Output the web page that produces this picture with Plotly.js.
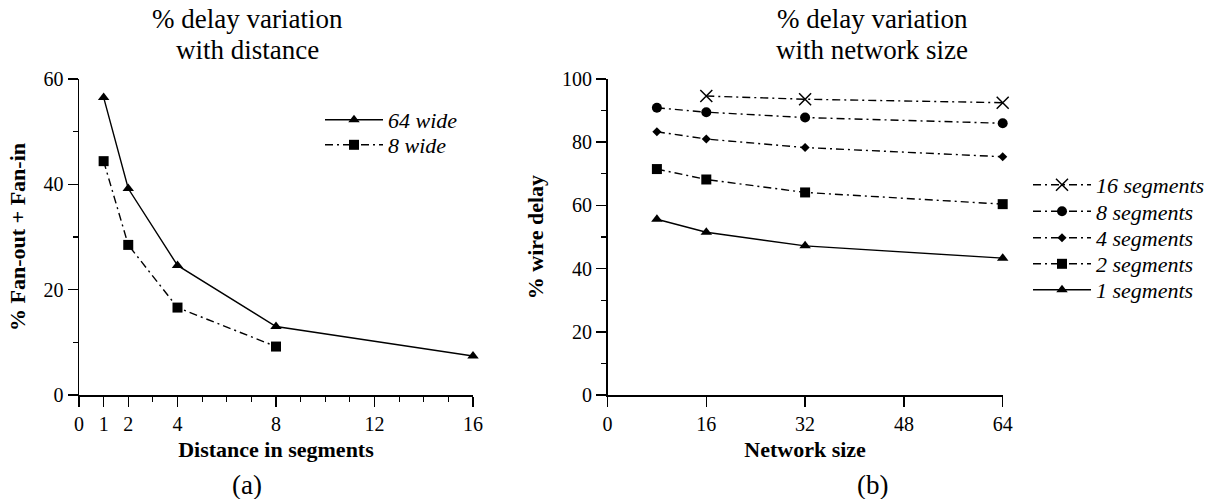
<!DOCTYPE html>
<html>
<head>
<meta charset="utf-8">
<script src="https://cdn.plot.ly/plotly-3.0.1.min.js"></script>
<style>html,body{margin:0;padding:0;background:#fff;}#chart{width:1211px;height:499px;}</style>
</head>
<body>
<div id="chart"></div>
<script>
// Panel (a): % Fan-out + Fan-in vs distance
const distX64 = [1, 2, 4, 8, 16];
const wide64 = [56.5, 39.2, 24.6, 13.0, 7.4];
const distX8 = [1, 2, 4, 8];
const wide8 = [44.4, 28.5, 16.6, 9.2];
const distTicks = [0, 1, 2, 4, 8, 12, 16];

// Panel (b): % wire delay vs network size
const netSize = [8, 16, 32, 64];
const netSize16 = [16, 32, 64];
const seg16 = [94.6, 93.6, 92.5];
const seg8 = [90.9, 89.5, 87.8, 86.0];
const seg4 = [83.3, 81.0, 78.3, 75.4];
const seg2 = [71.5, 68.2, 64.1, 60.4];
const seg1 = [55.6, 51.5, 47.2, 43.3];
const netTicks = [0, 16, 32, 48, 64];

const FONT = 'Liberation Serif';
const DD = '8px,4px,2px,4px';

function tr(x, y, name, symbol, size, dash, xa, ya, leg) {
  const isX = symbol.indexOf('x') === 0;
  return {
    x: x, y: y, name: name, type: 'scatter', mode: 'lines+markers',
    xaxis: xa, yaxis: ya, legend: leg, cliponaxis: false,
    line: {color: '#000', width: 1.4, dash: dash},
    marker: {symbol: symbol, size: size, color: '#000',
             line: {color: '#000', width: isX ? 1.5 : 0}}
  };
}

const data = [
  tr(distX64, wide64, '64 wide', 'triangle-up', 10, 'solid', 'x', 'y', 'legend'),
  tr(distX8, wide8, '8 wide', 'square', 10, DD, 'x', 'y', 'legend2'),
  tr(netSize16, seg16, '16 segments', 'x-thin-open', 12, DD, 'x2', 'y2', 'legend3'),
  tr(netSize, seg8, '8 segments', 'circle', 10, DD, 'x2', 'y2', 'legend4'),
  tr(netSize, seg4, '4 segments', 'diamond', 7, DD, 'x2', 'y2', 'legend5'),
  tr(netSize, seg2, '2 segments', 'square', 10, DD, 'x2', 'y2', 'legend6'),
  tr(netSize, seg1, '1 segments', 'triangle-up', 10, 'solid', 'x2', 'y2', 'legend7')
];

const W = 1211, H = 499;
const py = p => 1 - p / H;
const px = p => p / W;

const axBase = {
  showgrid: false, zeroline: false, showline: true, linecolor: '#000', linewidth: 1.5,
  ticks: 'outside', ticklen: 10, tickwidth: 1.5, tickcolor: '#000',
  tickfont: {family: FONT, size: 20, color: '#000'},
  minor: {ticks: 'outside', ticklen: 5, tickwidth: 1.2, tickcolor: '#000'}
};

function leg(x0, yc) {
  return {
    x: px(x0), y: py(yc), xanchor: 'left', yanchor: 'middle',
    bgcolor: 'rgba(0,0,0,0)', itemwidth: 58, tracegroupgap: 0,
    font: {family: FONT, size: 22, style: 'italic', color: '#000'}
  };
}

function ann(text, x, y, size) {
  return {text: text, xref: 'paper', yref: 'paper', x: px(x), y: py(y),
          xanchor: 'center', yanchor: 'middle', showarrow: false,
          font: {family: FONT, size: size, color: '#000'}};
}

const layout = {
  width: W, height: H,
  margin: {l: 0, r: 0, t: 0, b: 0},
  paper_bgcolor: '#fff', plot_bgcolor: '#fff',
  font: {family: FONT, color: '#000'},
  showlegend: true,
  xaxis: Object.assign({}, axBase, {
    domain: [px(79), px(473)], range: [0, 16], anchor: 'y',
    tickmode: 'array', tickvals: distTicks, ticktext: distTicks.map(String),
    minor: Object.assign({}, axBase.minor, {dtick: 1, tick0: 0}),
    title: {text: '<b>Distance in segments</b>', font: {family: FONT, size: 22}, standoff: 8}
  }),
  yaxis: Object.assign({}, axBase, {
    domain: [py(395), py(79)], range: [0, 60], anchor: 'x',
    dtick: 20, minor: Object.assign({}, axBase.minor, {dtick: 10}),
    title: {text: '<b>% Fan-out + Fan-in</b>', font: {family: FONT, size: 22}, standoff: 12}
  }),
  xaxis2: Object.assign({}, axBase, {
    domain: [px(607.5), px(1002.7)], range: [0, 64], anchor: 'y2',
    tickmode: 'array', tickvals: netTicks,
    minor: {ticks: ''},
    title: {text: '<b>Network size</b>', font: {family: FONT, size: 22}, standoff: 8}
  }),
  yaxis2: Object.assign({}, axBase, {
    domain: [py(395), py(79)], range: [0, 100], anchor: 'x2',
    dtick: 20, minor: Object.assign({}, axBase.minor, {dtick: 10}),
    title: {text: '<b>% wire delay</b>', font: {family: FONT, size: 22}, standoff: 12}
  }),
  legend: leg(320, 120),
  legend2: leg(320, 145),
  legend3: leg(1028, 185),
  legend4: leg(1028, 211.5),
  legend5: leg(1028, 238),
  legend6: leg(1028, 264),
  legend7: leg(1028, 290),
  annotations: [
    ann('% delay variation', 247.5, 19, 27),
    ann('with distance', 247.5, 50, 27),
    ann('% delay variation', 872, 19, 27),
    ann('with network size', 872, 50, 27),
    ann('(a)', 247, 485, 27),
    ann('(b)', 872, 485, 27)
  ]
};

Plotly.newPlot('chart', data, layout, {displayModeBar: false, staticPlot: true});
</script>
</body>
</html>
